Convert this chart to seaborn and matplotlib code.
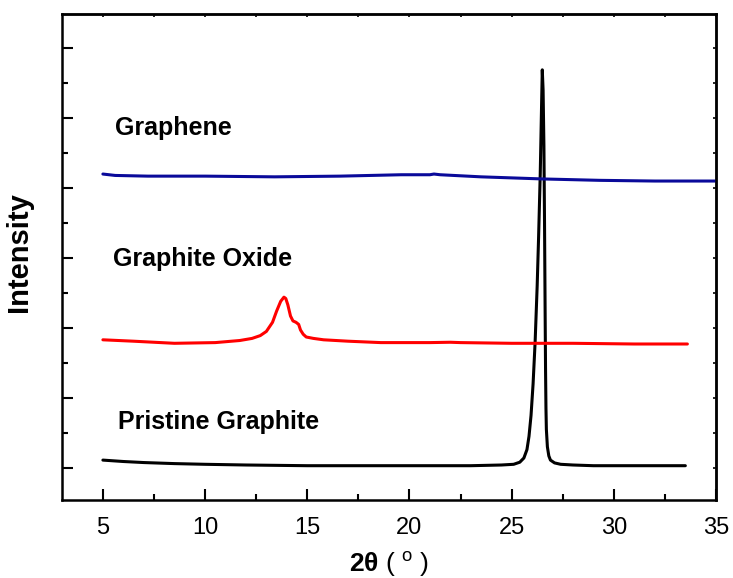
import matplotlib
matplotlib.use('Agg')
import matplotlib.pyplot as plt
import seaborn as sns
from matplotlib.ticker import MultipleLocator

# XRD patterns (offset intensities, arbitrary units)
graphite_x = [5.0, 5.5, 6.0, 7.0, 8.5, 10.0, 12.0, 15.0, 18.0, 21.0, 23.0, 24.5, 25.1,
              25.4, 25.6, 25.75, 25.85, 25.95, 26.05, 26.15, 26.25, 26.32, 26.4,
              26.46, 26.5, 26.54, 26.58, 26.61, 26.64, 26.66, 26.68, 26.7, 26.75,
              26.82, 26.9, 27.1, 27.4, 28.0, 29.0, 31.0, 33.5]
graphite_y = [0.11, 0.10, 0.09, 0.075, 0.06, 0.05, 0.04, 0.03, 0.03, 0.03, 0.03, 0.04, 0.05,
              0.08, 0.14, 0.26, 0.45, 0.75, 1.20, 1.80, 2.60, 3.30, 4.20,
              5.10, 5.69, 5.40, 4.60, 3.50, 2.20, 1.40, 0.85, 0.55, 0.30,
              0.17, 0.11, 0.07, 0.05, 0.04, 0.03, 0.03, 0.03]

oxide_x = [5.0, 6.5, 8.5, 10.5, 11.7, 12.3, 12.7, 13.0, 13.3, 13.5, 13.7, 13.86,
           13.95, 14.05, 14.18, 14.3, 14.45, 14.58, 14.67, 14.8, 14.95, 15.3, 15.8,
           17.0, 18.6, 21.0, 22.0, 22.5, 25.0, 28.0, 31.0, 33.6]
oxide_y = [1.83, 1.81, 1.78, 1.79, 1.82, 1.85, 1.89, 1.95, 2.08, 2.24, 2.38, 2.44,
           2.42, 2.33, 2.17, 2.10, 2.08, 2.05, 1.97, 1.91, 1.87, 1.85, 1.83,
           1.81, 1.79, 1.79, 1.795, 1.79, 1.78, 1.78, 1.77, 1.77]

graphene_x = [5.0, 5.6, 7.2, 10.0, 13.4, 16.6, 19.6, 21.0, 21.2, 21.5, 23.5, 26.5,
              29.3, 32.0, 35.0]
graphene_y = [4.20, 4.18, 4.17, 4.17, 4.16, 4.17, 4.19, 4.19, 4.20, 4.19, 4.16, 4.13,
              4.11, 4.10, 4.10]

sample_names = ['Graphene', 'Graphite Oxide', 'Pristine Graphite']
label_x = [5.6, 5.5, 5.75]
label_y = [4.86, 2.99, 0.66]

x_ticks = [5, 10, 15, 20, 25, 30, 35]

sns.set_style('ticks')
plt.rcParams['font.family'] = ['Liberation Sans', 'DejaVu Sans']
plt.rcParams['mathtext.fontset'] = 'custom'
plt.rcParams['mathtext.rm'] = 'Liberation Sans'
plt.rcParams['mathtext.bf'] = 'Liberation Sans:bold'
plt.rcParams['text.color'] = 'black'
plt.rcParams['axes.labelcolor'] = 'black'

fig = plt.figure(figsize=(7.33, 5.78), dpi=100)
ax = fig.add_axes([0.0846, 0.135, 0.8922, 0.841])

sns.lineplot(x=graphite_x, y=graphite_y, color='black', linewidth=2.2, ax=ax)
sns.lineplot(x=oxide_x, y=oxide_y, color='#ff0000', linewidth=2.2, ax=ax)
sns.lineplot(x=graphene_x, y=graphene_y, color='#0a0a9a', linewidth=2.2, ax=ax)

for name, tx, ty in zip(sample_names, label_x, label_y):
    ax.text(tx, ty, name, fontsize=18, fontweight='bold', va='center', ha='left',
            color='black')

ax.set_xlim(3, 35)
ax.set_ylim(-0.46, 6.49)
ax.set_xticks(x_ticks)
ax.xaxis.set_minor_locator(MultipleLocator(2.5))
ax.yaxis.set_major_locator(MultipleLocator(1))
ax.yaxis.set_minor_locator(MultipleLocator(0.5))
ax.set_yticklabels([])

ax.tick_params(axis='both', which='major', direction='in', length=8, width=1.5,
               labelsize=17, pad=12, colors='black', labelcolor='black')
ax.tick_params(axis='both', which='minor', direction='in', length=4, width=1.5,
               colors='black')
ax.tick_params(axis='x', which='both', top=False)
ax.tick_params(axis='y', which='both', right=False)

for sp in ax.spines.values():
    sp.set_linewidth(1.8)
    sp.set_color('black')

ax.set_xlabel(r'$\mathbf{2\theta}$ ( $^{\mathrm{o}}$ )', fontsize=19, labelpad=8)
ax.set_ylabel('Intensity', fontsize=21, fontweight='bold')
ax.yaxis.set_label_coords(-0.044, 0.51)

# short ticks on the top and right spines
ax2 = ax.secondary_xaxis('top')
ax2.set_xticks(x_ticks)
ax2.xaxis.set_minor_locator(MultipleLocator(2.5))
ax2.tick_params(which='both', direction='in', length=2, width=1.2, labeltop=False,
                colors='black')
ax2.spines['top'].set_linewidth(1.8)
ax3 = ax.secondary_yaxis('right')
ax3.yaxis.set_major_locator(MultipleLocator(1))
ax3.yaxis.set_minor_locator(MultipleLocator(0.5))
ax3.tick_params(which='both', direction='in', length=2, width=1.2, labelright=False,
                colors='black')
ax3.spines['right'].set_linewidth(1.8)

fig.savefig('out.png', dpi=100)
